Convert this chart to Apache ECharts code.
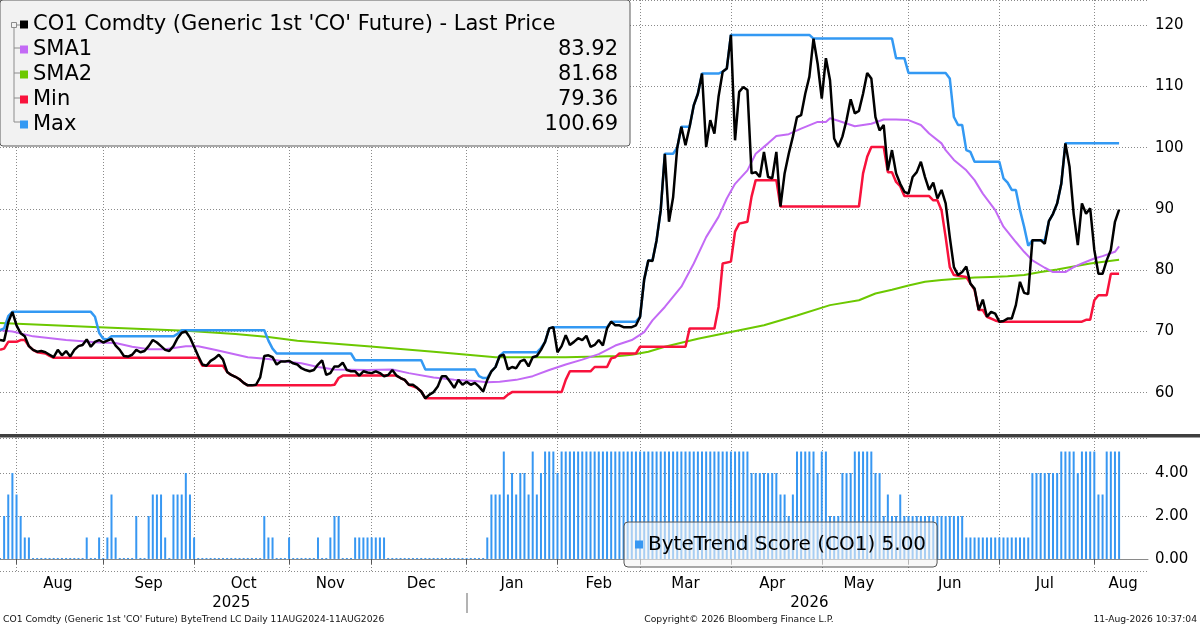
<!DOCTYPE html>
<html>
<head>
<meta charset="utf-8">
<script src="https://cdn.jsdelivr.net/npm/echarts/dist/echarts.min.js"></script>
<style>
  html,body{margin:0;padding:0;background:#fff;}
  #chart{width:1200px;height:627px;}
</style>
</head>
<body>
<div id="chart"></div>
<script>
/* ---------- axis scaffolding (trading-day index) ---------- */
const dayCount = 279;
const days = [];
for (let i = 0; i < dayCount; i++) days.push(i);

const monthNames  = ['Aug','Sep','Oct','Nov','Dec','Jan','Feb','Mar','Apr','May','Jun','Jul','Aug'];
const monthStart  = [4,25,47,70,90,113,135,155,177,199,220,242,265];
const monthLabelAt= [14,36,59,80,102,124,145,166,187,208,230,253,272];
const yearNames   = ['2025','2026'];
const yearLabelAt = [56,196];
const yearBreakAt = 113;

/* ---------- series ---------- */
const priceName = "CO1 Comdty (Generic 1st 'CO' Future) - Last Price";
const scoreName = 'ByteTrend Score (CO1)';

// daily last price
const price = [
  68.6,68.5,71.5,73.2,71.0,69.7,69.2,67.6,67.0,66.7,
  66.8,66.6,66.2,65.8,67.0,66.1,66.8,65.9,67.0,67.6,
  67.8,68.7,67.5,68.3,68.6,68.2,68.5,68.8,67.7,67.0,
  66.0,65.9,66.2,67.0,66.6,66.8,67.6,68.6,68.2,67.6,
  67.0,66.8,67.6,68.9,69.8,70.0,69.0,67.5,66.0,64.6,
  64.4,65.2,65.6,66.2,65.4,63.4,62.9,62.6,62.2,61.6,
  61.2,61.2,61.3,62.5,66.0,66.1,65.8,64.6,65.1,65.1,
  65.2,64.8,64.6,64.0,63.7,63.5,63.7,64.6,65.3,62.9,
  63.2,64.3,64.3,64.9,63.7,63.5,63.5,62.8,63.5,63.3,
  63.2,63.5,63.2,62.7,62.9,63.7,62.8,62.4,62.1,61.3,
  61.3,60.8,60.2,59.1,59.7,60.1,61.0,62.7,62.7,61.8,
  60.8,62.1,61.3,61.8,61.3,61.6,61.0,60.2,62.1,63.5,
  64.2,66.0,66.2,63.8,64.2,64.0,65.1,65.4,64.3,65.8,
  66.0,67.0,68.3,70.5,70.7,66.6,67.6,69.4,67.8,68.3,
  68.9,68.6,69.3,67.5,67.8,68.6,67.7,70.5,71.6,71.0,
  71.0,70.7,70.7,70.7,71.0,72.4,78.5,81.6,81.5,84.9,
  89.8,99.0,87.9,91.9,100.0,103.4,100.4,103.4,106.9,108.8,
  112.1,100.1,104.5,102.3,108.3,112.4,112.9,118.4,101.2,109.1,
  109.9,109.4,95.8,96.0,95.2,99.3,95.2,95.0,99.3,90.4,
  95.8,99.0,101.8,105.0,105.3,108.8,111.6,117.8,113.7,108.0,
  114.6,111.0,101.5,100.1,101.8,104.5,107.9,105.6,106.0,108.8,
  112.2,111.3,105.0,102.8,103.7,96.3,99.6,95.8,94.1,92.8,
  92.5,95.2,96.0,97.7,95.2,93.1,94.3,91.7,93.1,90.9,
  85.4,80.5,79.2,79.7,80.6,77.8,77.0,73.5,75.2,72.4,
  73.2,72.9,71.6,71.7,72.1,72.1,74.3,78.1,76.3,76.1,
  84.9,84.9,84.9,84.3,88.0,89.2,90.9,94.1,100.7,96.9,
  89.2,84.1,90.9,89.2,90.1,83.3,79.4,79.4,81.6,83.3,
  87.9,89.9
];

// [day, value] vertices
const sma1 = [
  [0,70.2],[3,70.0],[8,69.2],[16,68.6],[24,68.2],[28,68.1],[32,67.5],[36,67.1],[40,67.1],[45,67.6],
  [48,67.6],[52,67.0],[56,66.4],[60,65.8],[65,65.5],[69,65.1],[73,64.8],[77,64.2],[81,63.8],[89,63.7],
  [95,63.8],[99,63.2],[105,62.5],[110,62.1],[115,61.9],[118,61.7],[121,61.8],[125,62.1],[129,62.7],[133,63.7],
  [137,64.6],[141,65.4],[145,66.3],[149,67.7],[153,68.6],[156,69.9],[158,71.8],[161,74.0],[165,77.3],[168,81.1],
  [171,85.4],[174,88.7],[176,91.7],[178,94.1],[181,96.3],[183,99.0],[186,100.7],[188,101.9],[191,102.2],[194,103.1],
  [198,104.2],[200,104.2],[201,104.8],[203,104.4],[207,103.5],[211,103.9],[214,104.6],[217,104.6],[220,104.5],[223,103.7],
  [225,102.3],[228,100.7],[229,99.6],[231,98.0],[234,96.3],[236,94.7],[238,92.5],[241,89.8],[243,87.1],[246,84.6],
  [248,83.0],[250,81.6],[253,80.4],[255,79.7],[258,79.7],[260,80.5],[262,81.1],[265,81.9],[267,82.3],[270,83.0],
  [271,83.9]
];

const sma2 = [
  [0,71.4],[24,70.7],[45,70.1],[57,69.6],[65,69.1],[72,68.5],[89,67.6],[105,66.7],[120,65.8],[137,65.8],
  [145,65.9],[150,66.0],[153,66.2],[157,66.7],[161,67.5],[169,68.8],[177,69.9],[185,71.0],[193,72.6],[201,74.3],
  [208,75.1],[212,76.2],[216,76.8],[220,77.5],[224,78.1],[228,78.4],[232,78.6],[236,78.8],[240,78.9],[244,79.0],
  [248,79.2],[252,79.7],[256,80.1],[260,80.6],[264,81.1],[271,81.7]
];

const minLine = [
  [0,67.0],[1,67.2],[2,68.3],[4,68.3],[5,68.6],[6,68.6],[7,67.6],[8,67.0],[9,66.6],[11,66.4],
  [12,66.0],[13,65.7],[48,65.7],[49,64.4],[54,64.4],[55,63.4],[56,62.9],[57,62.6],[58,62.2],[59,61.6],
  [60,61.2],[80,61.2],[81,61.3],[82,62.4],[83,62.8],[96,62.8],[97,62.4],[98,62.1],[99,61.3],[101,60.8],
  [102,60.2],[103,59.1],[122,59.1],[123,59.7],[124,60.1],[136,60.1],[137,62.1],[138,63.5],[143,63.5],[144,64.2],
  [147,64.2],[148,65.6],[149,65.8],[150,66.4],[154,66.4],[155,67.5],[166,67.5],[167,70.5],[173,70.5],[174,74.0],
  [175,81.1],[177,81.4],[178,86.3],[179,87.6],[181,87.9],[182,92.0],[183,94.7],[188,94.7],[189,90.4],[208,90.4],
  [209,95.8],[210,98.5],[211,100.1],[214,100.1],[215,96.0],[216,96.0],[217,94.4],[218,93.7],[219,92.1],[225,92.1],
  [226,91.4],[227,91.4],[228,89.8],[229,85.4],[230,80.5],[231,79.2],[234,78.9],[235,77.8],[236,76.8],[237,73.5],
  [238,73.5],[239,72.4],[241,71.8],[242,71.6],[262,71.6],[263,71.9],[264,71.9],[265,75.1],[266,75.9],[268,75.9],
  [269,79.4],[271,79.4]
];

const maxLine = [
  [0,70.2],[1,70.5],[2,72.5],[3,73.2],[22,73.2],[23,72.4],[24,69.8],[25,68.8],[26,68.7],[27,69.2],
  [42,69.2],[43,69.6],[44,70.2],[64,70.2],[65,68.5],[66,67.2],[67,66.4],[85,66.4],[86,65.3],[102,65.3],
  [103,63.8],[115,63.8],[116,62.7],[117,62.4],[118,62.4],[119,63.5],[120,64.2],[121,66.0],[122,66.6],[130,66.6],
  [131,67.3],[132,68.3],[133,70.5],[134,70.7],[147,70.7],[148,71.6],[154,71.6],[155,72.4],[156,78.5],[157,81.6],
  [158,81.6],[159,84.9],[160,89.8],[161,99.0],[163,99.0],[164,100.0],[165,103.4],[167,103.4],[168,106.9],[169,108.8],
  [170,112.1],[174,112.1],[175,112.4],[176,112.9],[177,118.4],[196,118.4],[197,117.8],[216,117.8],[217,114.6],[219,114.6],
  [220,112.2],[229,112.2],[230,111.3],[231,105.0],[232,103.7],[233,103.7],[234,99.6],[235,99.3],[236,97.7],[242,97.7],
  [243,95.0],[244,94.3],[245,93.1],[246,93.1],[247,89.8],[248,87.1],[249,84.0],[250,84.9],[253,84.9],[254,88.0],
  [255,89.2],[256,90.9],[257,94.1],[258,100.7],[271,100.7]
];

// daily ByteTrend score
const scores = [
  0,2,3,4,3,2,1,1,0,0,
  0,0,0,0,0,0,0,0,0,0,
  0,1,0,0,1,0,1,3,1,0,
  0,0,0,2,0,0,2,3,3,3,
  1,0,3,3,3,4,3,1,0,0,
  0,0,0,0,0,0,0,0,0,0,
  0,0,0,0,2,1,1,0,0,0,
  1,0,0,0,0,0,0,1,0,0,
  1,2,2,0,0,0,1,1,1,1,
  1,1,1,1,0,0,0,0,0,0,
  0,0,0,0,0,0,0,0,0,0,
  0,0,0,0,0,0,0,0,1,3,
  3,3,5,3,4,3,4,4,3,5,
  3,4,5,5,5,4,5,5,5,5,
  5,5,5,5,5,5,5,5,5,5,
  5,5,5,5,5,5,5,5,5,5,
  5,5,5,5,5,5,5,5,5,5,
  5,5,5,5,5,5,5,5,5,5,
  5,5,4,4,4,4,4,4,4,3,
  3,2,3,5,5,5,5,5,4,5,
  5,2,2,2,4,4,4,5,5,5,
  5,5,4,4,2,3,2,2,3,2,
  2,2,2,2,2,2,2,2,2,2,
  2,2,2,2,1,1,1,1,1,1,
  1,1,1,1,1,1,1,1,1,1,
  4,4,4,4,4,4,4,5,5,5,
  5,4,5,5,5,5,3,3,5,5,
  5,5
];

const legendNames  = [priceName,'SMA1','SMA2','Min','Max'];
const legendValues = ['','83.92','81.68','79.36','100.69'];
const scoreLast = '5.00';

/* ---------- style ---------- */
const FONT = '"DejaVu Sans", Verdana, sans-serif';
const C = {price:'#000000', sma1:'#c36af5', sma2:'#6cc800', min:'#f8123c', max:'#3399f3', bar:'#3797f2'};
const dotted = {color:'#8a8a8a', type:[1,2], width:1};
const isMonthStart = i => monthStart.indexOf(i) >= 0;

const chart = echarts.init(document.getElementById('chart'), null, {renderer:'canvas'});
chart.setOption({
  animation:false,
  backgroundColor:'#ffffff',
  textStyle:{fontFamily:FONT},
  grid:[
    {left:0, right:52, top:0, height:435},
    {left:0, right:52, top:438, height:133}
  ],
  xAxis:[
    {type:'category', gridIndex:0, data:days, boundaryGap:false,
     axisLine:{show:false}, axisTick:{show:false}, axisLabel:{show:false},
     splitLine:{show:true, interval:isMonthStart, lineStyle:dotted}},
    {type:'category', gridIndex:1, data:days, boundaryGap:false,
     axisLine:{show:true, lineStyle:{color:'#8a8a8a', width:1}},
     axisTick:{show:true, interval:isMonthStart, length:5, lineStyle:{color:'#555'}},
     axisLabel:{interval:i => monthLabelAt.indexOf(i) >= 0,
                formatter:(v,i) => monthNames[monthLabelAt.indexOf(i)],
                fontFamily:FONT, fontSize:15, color:'#000', margin:6},
     splitLine:{show:true, interval:isMonthStart, lineStyle:dotted}},
    {type:'category', gridIndex:1, data:days, boundaryGap:false, position:'bottom', offset:22,
     axisLine:{show:false},
     axisTick:{show:true, interval:i => i === yearBreakAt, length:20, lineStyle:{color:'#9a9a9a', width:1.5}},
     axisLabel:{interval:i => yearLabelAt.indexOf(i) >= 0,
                formatter:(v,i) => yearNames[yearLabelAt.indexOf(i)],
                fontFamily:FONT, fontSize:15, color:'#000', margin:3},
     splitLine:{show:false}}
  ],
  yAxis:[
    {type:'value', gridIndex:0, position:'right', min:53.1, max:124.1, splitNumber:7, minInterval:10, maxInterval:10,
     axisLine:{show:false}, axisTick:{show:false},
     axisLabel:{showMinLabel:false, showMaxLabel:false, fontFamily:FONT, fontSize:15, color:'#000', margin:7},
     splitLine:{show:true, lineStyle:dotted}},
    {type:'value', gridIndex:1, position:'right', min:-0.56, max:5.63, splitNumber:3, minInterval:2, maxInterval:2,
     axisLine:{show:false}, axisTick:{show:false},
     axisLabel:{showMinLabel:false, showMaxLabel:false, formatter:v => v.toFixed(2),
                fontFamily:FONT, fontSize:15, color:'#000', margin:7},
     splitLine:{show:true, lineStyle:dotted}}
  ],
  legend:[
    {data:legendNames, orient:'vertical', left:0, top:0, icon:'rect', itemWidth:8, itemHeight:8, itemGap:4,
     padding:[14,12,11,20], backgroundColor:'#f2f2f2', borderColor:'#5a5a5a', borderWidth:1, borderRadius:3,
     selectedMode:false,
     formatter:name => '{n|' + name + '}{v|' + legendValues[legendNames.indexOf(name)] + '}',
     textStyle:{fontFamily:FONT, fontSize:21, color:'#000',
       rich:{n:{width:520, fontFamily:FONT, fontSize:21, color:'#000'},
             v:{width:65, align:'right', fontFamily:FONT, fontSize:21, color:'#000'}}}},
    {data:[scoreName], left:624, top:522, icon:'rect', itemWidth:8, itemHeight:8,
     padding:[9,11,9,11], backgroundColor:'rgba(244,244,244,0.6)', borderColor:'#555', borderWidth:1, borderRadius:4,
     selectedMode:false,
     formatter:name => name + ' ' + scoreLast,
     textStyle:{fontFamily:FONT, fontSize:20, color:'#000', lineHeight:27}}
  ],
  graphic:[
    {type:'rect', z:50, shape:{x:0, y:434, width:1200, height:3.5}, style:{fill:'#3f3f3f'}},
    {type:'line', z:50, shape:{x1:14, y1:28, x2:14, y2:122}, style:{stroke:'#8c8c8c', lineWidth:1}},
    {type:'line', z:50, shape:{x1:14, y1:48, x2:20, y2:48}, style:{stroke:'#8c8c8c', lineWidth:1}},
    {type:'line', z:50, shape:{x1:14, y1:73, x2:20, y2:73}, style:{stroke:'#8c8c8c', lineWidth:1}},
    {type:'line', z:50, shape:{x1:14, y1:98, x2:20, y2:98}, style:{stroke:'#8c8c8c', lineWidth:1}},
    {type:'line', z:50, shape:{x1:14, y1:122, x2:20, y2:122}, style:{stroke:'#8c8c8c', lineWidth:1}},
    {type:'rect', z:50, shape:{x:11.5, y:22.5, width:5, height:5}, style:{fill:'#f2f2f2', stroke:'#8c8c8c', lineWidth:1}},
    {type:'line', z:50, shape:{x1:16.5, y1:25, x2:20, y2:25}, style:{stroke:'#8c8c8c', lineWidth:1}},
    {type:'text', z:50, x:3, y:620,
     style:{text:"CO1 Comdty (Generic 1st 'CO' Future) ByteTrend LC Daily 11AUG2024-11AUG2026",
            fontFamily:FONT, fontSize:9.2, fill:'#111', align:'left', verticalAlign:'middle'}},
    {type:'text', z:50, x:739, y:620,
     style:{text:'Copyright\u00a9 2026 Bloomberg Finance L.P.',
            fontFamily:FONT, fontSize:9.2, fill:'#111', align:'center', verticalAlign:'middle'}},
    {type:'text', z:50, x:1197, y:620,
     style:{text:'11-Aug-2026 10:37:04',
            fontFamily:FONT, fontSize:9.2, fill:'#111', align:'right', verticalAlign:'middle'}}
  ],
  series:[
    {name:'SMA2', type:'line', xAxisIndex:0, yAxisIndex:0, data:sma2, symbol:'none',
     lineStyle:{color:C.sma2, width:2}, itemStyle:{color:C.sma2}},
    {name:'SMA1', type:'line', xAxisIndex:0, yAxisIndex:0, data:sma1, symbol:'none',
     lineStyle:{color:C.sma1, width:2}, itemStyle:{color:C.sma1}},
    {name:'Min', type:'line', xAxisIndex:0, yAxisIndex:0, data:minLine, symbol:'none',
     lineStyle:{color:C.min, width:2.5}, itemStyle:{color:C.min}},
    {name:'Max', type:'line', xAxisIndex:0, yAxisIndex:0, data:maxLine, symbol:'none',
     lineStyle:{color:C.max, width:2.5}, itemStyle:{color:C.max}},
    {name:priceName, type:'line', xAxisIndex:0, yAxisIndex:0, data:price, symbol:'none',
     lineStyle:{color:C.price, width:2.5}, itemStyle:{color:C.price}},
    {name:scoreName, type:'bar', xAxisIndex:1, yAxisIndex:1, data:scores, barWidth:2, barMinHeight:1,
     itemStyle:{color:C.bar}}
  ]
});
</script>
</body>
</html>
